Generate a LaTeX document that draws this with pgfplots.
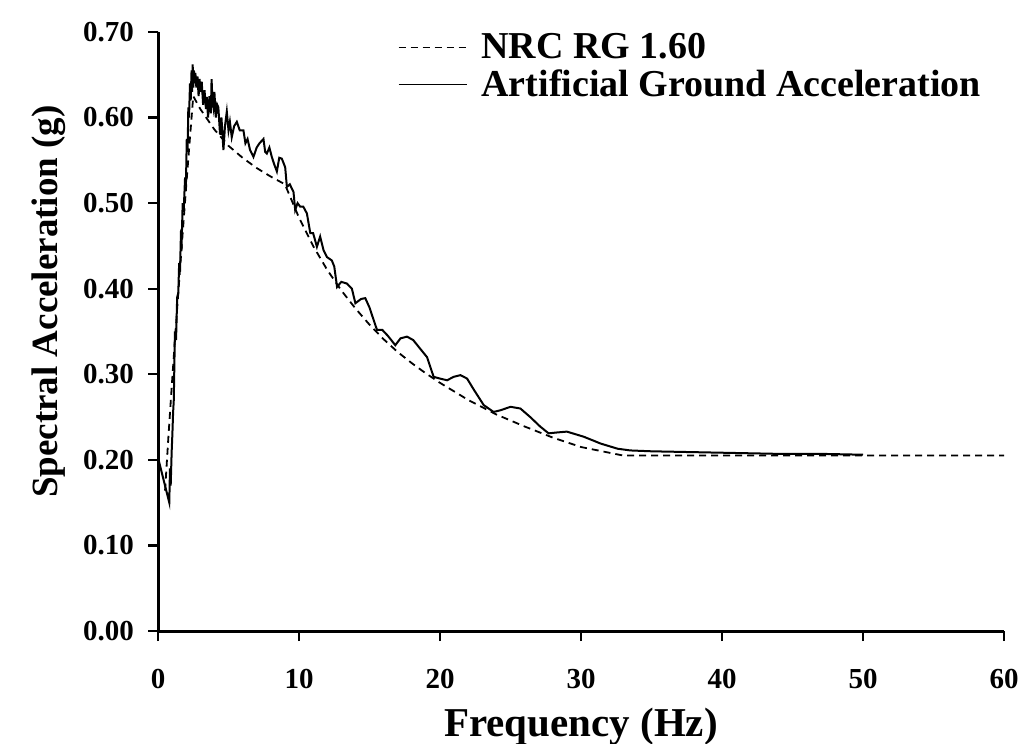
\documentclass[border=0pt]{standalone}
\usepackage{pgfplots}
\pgfplotsset{compat=1.18}
\usepackage{fontspec}
\setmainfont{Liberation Serif}
\begin{document}
\begin{tikzpicture}
\useasboundingbox (0pt,0pt) rectangle (518pt,371.5pt);
\begin{axis}[
  at={(79pt,56pt)}, anchor=south west,
  scale only axis, width=423pt, height=299.5pt,
  xmin=0, xmax=60, ymin=0, ymax=0.70,
  axis lines=left,
  axis line style={-, line width=1.5pt},
  tick align=outside,
  major tick length=5pt,
  tick style={line width=1.2pt, black},
  xtick={0,10,...,60},
  ytick={0,0.1,...,0.7},
  /pgf/number format/assume math mode=true,
  ticklabel style={font=\fontsize{14.5}{16}\selectfont\bfseries},
  yticklabel style={xshift=-3.5pt, /pgf/number format/.cd, fixed, fixed zerofill, precision=2},
  xticklabel style={yshift=-10.5pt},
  xlabel={Frequency (Hz)},
  ylabel={Spectral Acceleration (g)},
  xlabel style={font=\fontsize{20.5}{22}\selectfont\bfseries, yshift=-3pt},
  ylabel style={font=\fontsize{18.5}{20}\selectfont\bfseries, at={(ticklabel cs:0.55)}, yshift=2pt},
  legend style={at={(0.283,1.005)}, anchor=north west, draw=none, fill=none,
    font=\fontsize{19}{20}\selectfont\bfseries, inner sep=0pt, row sep=0pt},
  legend cell align=left,
  legend image code/.code={\draw[#1, line width=0.7pt] (0pt,0pt) -- (34pt,0pt); \path (39pt,0pt);},
  clip=false,
]
\addplot[black, line width=0.9pt, dash pattern=on 3.5pt off 2.5pt] coordinates {
(0.5,0.164) (0.75,0.230) (1.0,0.292) (1.25,0.352) (1.5,0.409) (1.75,0.465)
(2.0,0.520) (2.25,0.573) (2.5,0.625) (3,0.610) (4,0.586) (5,0.567) (6,0.553)
(7,0.541) (8,0.531) (9,0.522) (10,0.483) (11,0.450) (12,0.422) (13,0.398)
(14,0.377) (15,0.358) (16,0.341) (17,0.326) (18,0.313) (19,0.301) (20,0.290)
(22,0.270) (24,0.253) (26,0.239) (28,0.226) (30,0.215) (33,0.205) (60,0.205)
};
\addlegendentry{NRC RG 1.60}
\addplot[black, line width=1pt] coordinates {
(0,0.70) (0.04,0.20) (0.8,0.15) (0.85,0.19) (0.9,0.17) (0.97,0.21) (1.02,0.23)
(1.07,0.255) (1.12,0.27) (1.2,0.35) (1.28,0.34) (1.36,0.39) (1.44,0.395)
(1.5,0.43) (1.56,0.42) (1.62,0.46) (1.68,0.455) (1.75,0.50) (1.82,0.49)
(1.92,0.53) (1.98,0.52) (2.04,0.575) (2.1,0.56) (2.15,0.612) (2.2,0.60)
(2.27,0.64) (2.32,0.62) (2.38,0.655) (2.42,0.63) (2.46,0.662) (2.5,0.635)
(2.55,0.655) (2.6,0.64) (2.65,0.652) (2.72,0.635) (2.8,0.648) (2.88,0.625)
(2.95,0.645) (3.0,0.63) (3.1,0.642) (3.2,0.615) (3.3,0.632) (3.4,0.61)
(3.46,0.624) (3.55,0.60) (3.65,0.625) (3.75,0.605) (3.8,0.645) (3.86,0.62)
(3.93,0.612) (4.0,0.63) (4.1,0.60) (4.2,0.615) (4.28,0.612) (4.4,0.58)
(4.5,0.60) (4.64,0.562) (4.75,0.59) (4.88,0.607) (5.0,0.585) (5.1,0.595)
(5.23,0.577) (5.4,0.59) (5.59,0.595) (5.8,0.585) (6.06,0.585) (6.2,0.57)
(6.35,0.575) (6.53,0.562) (6.77,0.554) (7.0,0.565) (7.2,0.57) (7.48,0.575)
(7.6,0.56) (7.72,0.558) (7.9,0.565) (8.07,0.554) (8.25,0.545) (8.43,0.537)
(8.6,0.553) (8.78,0.552) (9.02,0.542) (9.14,0.519) (9.35,0.522) (9.61,0.513)
(9.73,0.492) (9.9,0.50) (10.08,0.496) (10.3,0.496) (10.56,0.488) (10.8,0.465)
(11.0,0.465) (11.27,0.449) (11.5,0.461) (11.74,0.445) (11.98,0.437)
(12.33,0.433) (12.5,0.426) (12.7,0.402) (13.0,0.408) (13.4,0.406)
(13.75,0.400) (14.0,0.383) (14.4,0.388) (14.7,0.389) (15.0,0.378)
(15.18,0.369) (15.53,0.352) (15.9,0.352) (16.3,0.345) (16.83,0.334)
(17.2,0.342) (17.66,0.344) (18.1,0.340) (18.49,0.332) (19.08,0.320)
(19.55,0.297) (20.0,0.295) (20.5,0.293) (20.97,0.297) (21.45,0.299)
(21.92,0.295) (22.4,0.282) (23.1,0.264) (23.8,0.256) (24.3,0.258)
(25.0,0.262) (25.7,0.260) (26.4,0.250) (27.1,0.239) (27.7,0.231)
(28.3,0.232) (29.0,0.233) (29.6,0.230) (30.2,0.227) (30.8,0.223)
(31.4,0.219) (32.0,0.216) (32.6,0.213) (33.5,0.211) (35,0.210) (38,0.209)
(41,0.208) (44,0.207) (47,0.207) (50,0.206)
};
\addlegendentry{Artificial Ground Acceleration}
\end{axis}
\end{tikzpicture}
\end{document}
